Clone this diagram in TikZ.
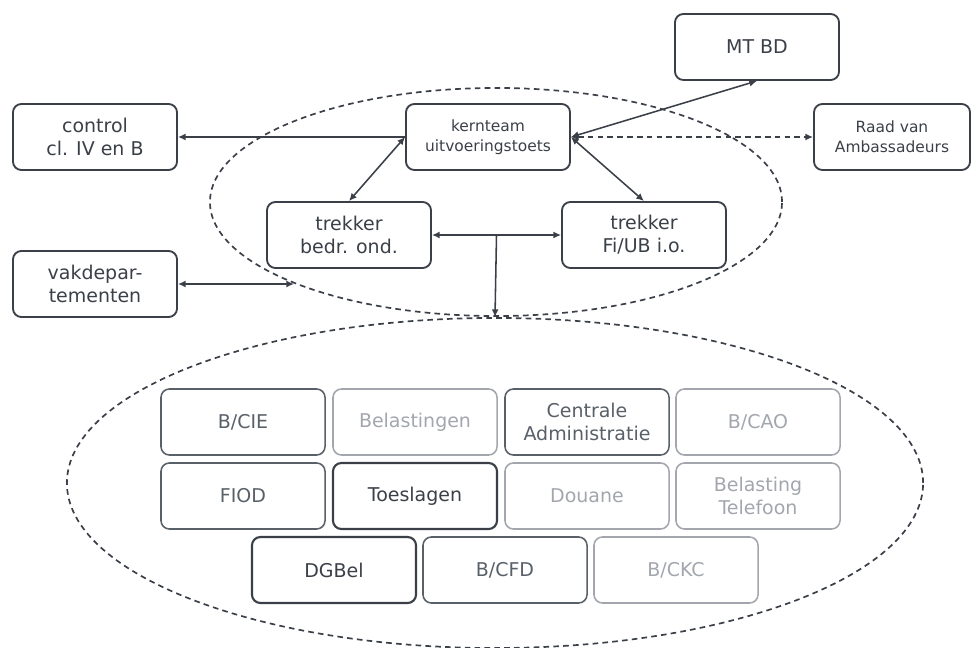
\documentclass[tikz,border=0pt]{standalone}
\usepackage{fontspec}
\setmainfont{DejaVu Sans}
\usetikzlibrary{arrows.meta,shapes.geometric,calc}
\definecolor{ink}{HTML}{3B4048}
\definecolor{inkmid}{HTML}{596068}
\definecolor{pale}{HTML}{A3A7AD}
\begin{document}
\begin{tikzpicture}
        [x=0.025cm, y=-0.025cm,
        box/.style={draw=ink, line width=1.3pt, rounded corners=6pt, fill=white, text=ink, align=center,
            minimum width=4.1cm, minimum height=1.65cm, inner sep=2pt, font=\fontsize{13.5}{16.5}\selectfont},
        smallbox/.style={box, font=\fontsize{11}{14}\selectfont},
        unit/.style={box, draw=inkmid, line width=1.1pt, text=inkmid},
        keyunit/.style={box, line width=1.5pt},
        faint/.style={box, draw=pale, line width=1.1pt, text=pale},
        group/.style={ellipse, draw=ink, line width=1.2pt, dash pattern=on 4pt off 3pt, inner sep=0pt},
        edge/.style={draw=ink, line width=1.1pt, {Latex[length=5.5pt,width=5pt]}-{Latex[length=5.5pt,width=5pt]}},
        oneway/.style={draw=ink, line width=1.1pt, -{Latex[length=5.5pt,width=5pt]}},
        dashedge/.style={edge, dash pattern=on 4pt off 3pt}]
        \useasboundingbox (0,0) rectangle (971,648);

        % Dashed groups
        \node[group, minimum width=14.3cm, minimum height=5.7cm] (core) at (496,202) {};
        \node[group, minimum width=21.4cm, minimum height=8.25cm] (units) at (495,483) {};

        % Top level
        \node[box] (control) at (95,137) {control\\cl. IV en B};
        \node[smallbox] (kern) at (488,137) {kernteam\\uitvoeringstoets};
        \node[box] (mtbd) at (757,47) {MT BD};
        \node[smallbox, minimum width=3.9cm] (raad) at (892,137) {Raad van\\Ambassadeurs};
        \node[box] (tbedr) at (349,235) {trekker\\bedr. ond.};
        \node[box] (tfiub) at (644,235) {trekker\\Fi/UB i.o.};
        \node[box] (vak) at (95,284) {vakdepar-\\tementen};

        % Units
        \node[unit] (bcie) at (243,422) {B/CIE};
        \node[faint] (bel) at (415,422) {Belastingen};
        \node[unit] (ca) at (587,422) {Centrale\\Administratie};
        \node[faint] (bcao) at (758,422) {B/CAO};
        \node[unit] (fiod) at (243,496) {FIOD};
        \node[keyunit] (toes) at (415,496) {Toeslagen};
        \node[faint] (dou) at (587,496) {Douane};
        \node[faint] (beltel) at (758,496) {Belasting\\Telefoon};
        \node[keyunit] (dgbel) at (334,570) {DGBel};
        \node[unit] (bcfd) at (505,570) {B/CFD};
        \node[faint] (bckc) at (676,570) {B/CKC};

        % Connections
        \draw[oneway] (kern.west) -- (control.east);
        \draw[edge] (kern.west) -- (tbedr.north);
        \draw[edge] (kern.east) -- (tfiub.north);
        \draw[edge] (kern.east) -- (mtbd.south);
        \draw[dashedge] (kern.east) -- (raad.west);
        \draw[edge] (tbedr.east) -- (tfiub.west);
        \coordinate (split) at ($(tbedr.east)!0.5!(tfiub.west)$);
        \draw[oneway] (split) -- (units.north);
        \draw[edge] (vak.east) -- (vak.east -| core.202);

    \end{tikzpicture}
\end{document}
